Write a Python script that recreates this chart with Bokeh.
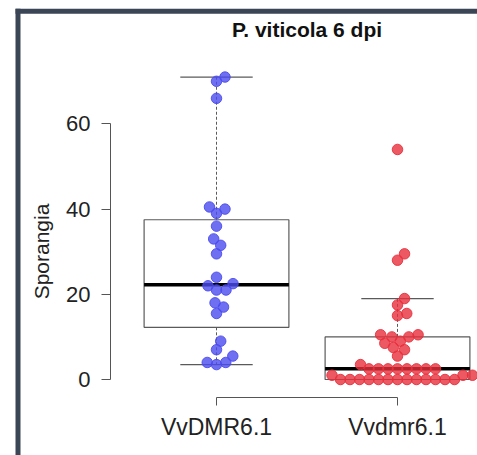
import math
from bokeh.plotting import figure
from bokeh.models import Range1d, FixedTicker, Label, ColumnDataSource, InlineStyleSheet
from bokeh.embed import file_html
from bokeh.resources import INLINE

# ---- data ----
categories = ["VvDMR6.1", "Vvdmr6.1"]
wt_values = [71, 70, 66, 40.5, 40, 39, 36, 33, 31.5, 29.5, 24, 22.5, 22, 21, 21,
             18, 17, 15.5, 9, 7, 5.5, 4, 4, 3.5]
mut_values = [54, 29.5, 28, 19, 17.5, 15.5, 15, 10.5, 10.5, 10, 10, 9, 8.5, 7.5, 7,
              5.5, 3.5, 2.5, 2.5, 2.5, 2.5, 2.5, 2.5, 2.5, 2.5, 1, 1, 1,
              0, 0, 0, 0, 0, 0, 0, 0, 0, 0, 0, 0, 0]
y_ticks = [0, 20, 40, 60]
title_text = "P. viticola 6 dpi"
y_label = "Sporangia"

# ---- layout (screen pixels; frame covers the whole canvas) ----
W, H = 477, 455
x_px_per_unit = 181.0
y_px_per_unit = 4.26
first_px = 216      # screen x of first category
zero_px = 379       # screen y of value 0


def sx(px):
    return 1 + (px - first_px) / x_px_per_unit


def sy(py):
    return (zero_px - py) / y_px_per_unit


def fivenum(v):
    s = sorted(v)
    n = len(s)
    n4 = math.floor((n + 3) / 2) / 2
    d = [1, n4, (n + 1) / 2, n + 1 - n4, n]
    return [0.5 * (s[math.floor(i) - 1] + s[math.ceil(i) - 1]) for i in d]


def box_stats(v):
    f = fivenum(v)
    iqr = f[3] - f[1]
    hi = max(x for x in v if x <= f[3] + 1.5 * iqr)
    lo = min(x for x in v if x >= f[1] - 1.5 * iqr)
    return lo, f[1], f[2], f[3], hi


def swarm(vals, dpx):
    order = sorted(range(len(vals)), key=lambda i: vals[i])
    placed = []
    out = [0.0] * len(vals)
    for i in order:
        y = vals[i] * y_px_per_unit
        cands = [0.0]
        for xj, yj in placed:
            dy = abs(y - yj)
            if dy < dpx:
                dx = math.sqrt(dpx ** 2 - dy ** 2)
                cands += [xj + dx, xj - dx]
        valid = [c for c in cands
                 if all((c - xj) ** 2 + (y - yj) ** 2 >= dpx ** 2 - 1e-6 for xj, yj in placed)]
        best = min(valid, key=lambda c: (round(abs(c), 6), -c))
        placed.append((best, y))
        out[i] = best / x_px_per_unit
    return out


p = figure(width=W, height=H, output_backend="svg", toolbar_location=None,
           x_range=Range1d(sx(0), sx(W)), y_range=Range1d(sy(H), sy(0)),
           min_border_left=0, min_border_right=0, min_border_top=0,
           min_border_bottom=0)
p.styles = {"overflow": "hidden", "scrollbar-width": "none"}
p.stylesheets = [InlineStyleSheet(css=(
    ":host { overflow: hidden !important; scrollbar-width: none !important; }\n"
    "div { overflow: hidden !important; scrollbar-width: none !important; }\n"
    "::-webkit-scrollbar { display: none; width: 0; height: 0; }"))]
p.outline_line_color = None
p.grid.visible = False
p.background_fill_color = "white"
p.border_fill_color = "white"

# dark panel frame (decoration): left edge and top edge as separate strips
p.segment(x0=[sx(17.5), sx(15)], y0=[sy(H), sy(10.8)],
          x1=[sx(17.5), sx(W)], y1=[sy(8.3), sy(10.8)],
          line_color="#3a4556", line_width=5, line_cap="butt")

groups = [(1, wt_values, "#4b4bef"), (2, mut_values, "#e8303c")]
box_col = "#5a5a5a"
for pos, vals, col in groups:
    lo, q1, med, q3, hi = box_stats(vals)
    p.quad(left=[pos - 0.4], right=[pos + 0.4], bottom=[q1], top=[q3],
           fill_color=None, line_color=box_col, line_width=1.2)
    p.segment(x0=[pos, pos], y0=[q3, q1], x1=[pos, pos], y1=[hi, lo],
              line_color=box_col, line_width=1, line_dash="3 2")
    p.segment(x0=[pos - 0.2, pos - 0.2], y0=[hi, lo], x1=[pos + 0.2, pos + 0.2],
              y1=[hi, lo], line_color=box_col, line_width=1.2)
    p.segment(x0=[pos - 0.4], y0=[med], x1=[pos + 0.4], y1=[med],
              line_color="black", line_width=3.5)
    offs = swarm(vals, 9.5)
    src = ColumnDataSource(dict(x=[pos + o for o in offs], y=vals))
    p.scatter("x", "y", source=src, size=10.5, fill_color=col, fill_alpha=0.8,
              line_color=col, line_alpha=0.9)

font = "Liberation Sans"
ax = p.yaxis[0]
ax.fixed_location = sx(110)
ax.ticker = FixedTicker(ticks=y_ticks)
ax.bounds = (0, 60)
ax.minor_tick_line_color = None
ax.major_tick_out = 9
ax.major_tick_in = 0
ax.axis_line_color = "#555555"
ax.major_tick_line_color = "#555555"
ax.major_label_text_font = font
ax.major_label_text_font_size = "22px"
ax.major_label_text_color = "#222222"
ax.major_label_standoff = 11
ax.axis_label = y_label
ax.axis_label_text_font = font
ax.axis_label_text_font_size = "21px"
ax.axis_label_text_font_style = "normal"
ax.axis_label_text_color = "#222222"
ax.axis_label_standoff = 10

bx = p.xaxis[0]
bx.fixed_location = sy(397)
bx.ticker = FixedTicker(ticks=[1, 2])
bx.major_label_overrides = {1: categories[0], 2: categories[1]}
bx.bounds = (1, 2)
bx.minor_tick_line_color = None
bx.major_tick_out = 8
bx.major_tick_in = 0
bx.axis_line_color = "#555555"
bx.major_tick_line_color = "#555555"
bx.major_label_text_font = font
bx.major_label_text_font_size = "23px"
bx.major_label_text_color = "#222222"
bx.major_label_standoff = 8

p.add_layout(Label(x=1.5, y=sy(28.7), text=title_text,
                   text_font=font, text_font_size="21px", text_font_style="bold",
                   text_align="center", text_baseline="alphabetic",
                   text_color="#111111"))

html = file_html(p, INLINE)
html = html.replace("<head>", "<head><style>html, body { margin: 0; overflow: hidden; }</style>", 1)
open("out.html", "w").write(html)
